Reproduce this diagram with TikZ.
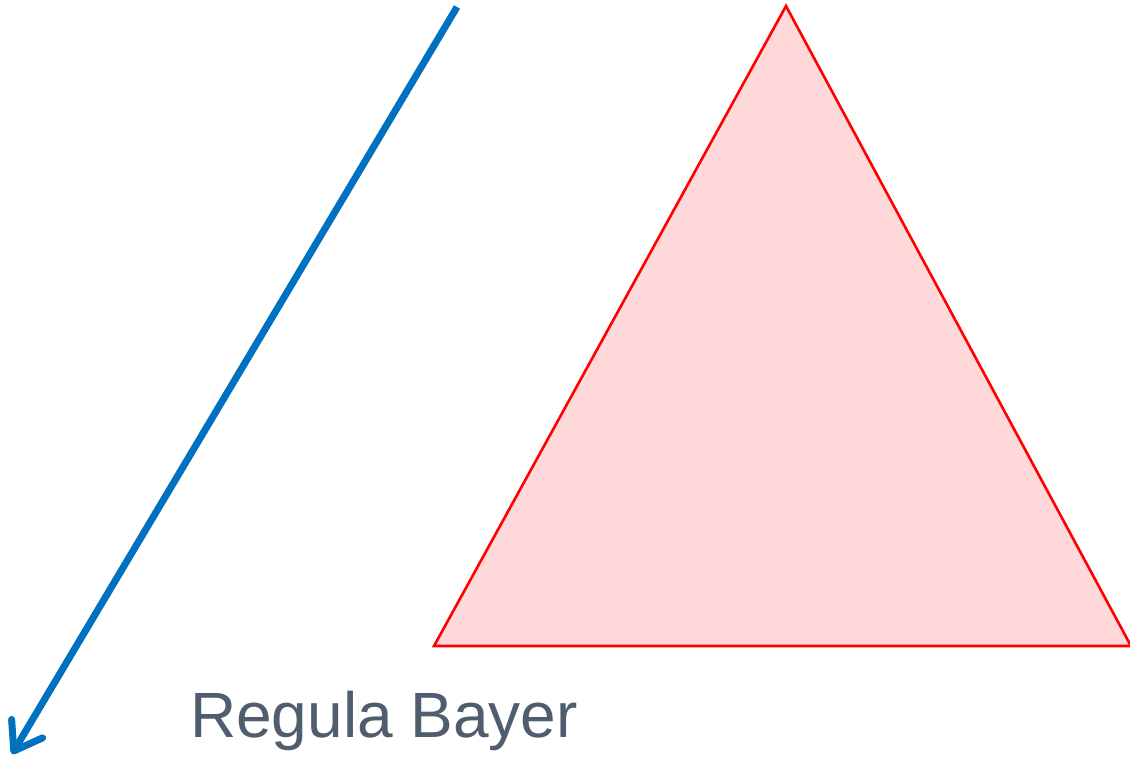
\documentclass[tikz,border=0pt]{standalone}
\usepackage{fontspec}
\setmainfont{Liberation Sans}
\usetikzlibrary{arrows.meta}
\definecolor{arrowblue}{RGB}{0,112,192}
\definecolor{trired}{RGB}{255,0,0}
\definecolor{trifill}{RGB}{255,217,217}
\definecolor{textgray}{RGB}{80,93,110}
\tikzset{
  bluearrow/.style={draw=arrowblue, line width=7pt,
    -{Straight Barb[length=26pt,width=36pt,line cap=round,round]}},
  tri/.style={draw=trired, fill=trifill, line width=2.6pt, line join=miter},
  label/.style={text=textgray, font=\fontsize{64}{72}\selectfont, anchor=base west, inner sep=0pt}
}
\begin{document}
\begin{tikzpicture}[x=1pt,y=-1pt]
\useasboundingbox (0,0) rectangle (1130,761);
\coordinate (a0) at (457,7);
\coordinate (a1) at (12,754);
\draw[bluearrow] (a0) -- (a1);
\coordinate (t1) at (786,6);
\coordinate (t2) at (434,646);
\coordinate (t3) at (1131,646);
\draw[tri] (t1) -- (t2) -- (t3) -- cycle;
\node[label] (name) at (190,737) {Regula Bayer};
\end{tikzpicture}
\end{document}
